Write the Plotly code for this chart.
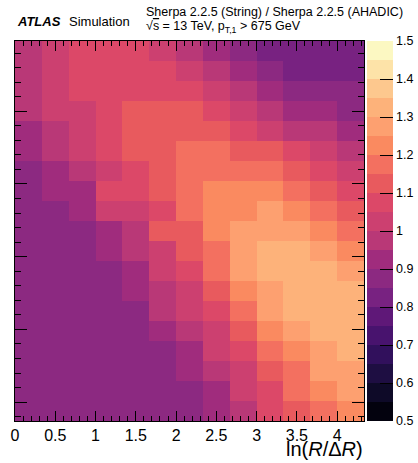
import plotly.graph_objects as go

# ---- data ----
# ln(R/dR) bin edges (13 bins)
x_edges = [0.0, 0.3333, 0.6667, 1.0, 1.3333, 1.6667, 2.0, 2.3333, 2.6667, 3.0,
           3.3333, 3.6667, 4.0, 4.3333]
# ln(1/z) bin edges (19 bins), bottom to top
y_edges = [0.74, 1.015, 1.29, 1.565, 1.84, 2.115, 2.39, 2.665, 2.94, 3.215,
           3.49, 3.765, 4.04, 4.315, 4.59, 4.865, 5.14, 5.415, 5.69, 5.965]

# ratio String / AHADIC, rows listed from TOP row to BOTTOM row
ratio_top_to_bottom = [
    [0.97, 1.02, 1.07, 1.07, 1.07, 1.02, 0.97, 0.92, 0.87, 0.83, 0.82, 0.82, 0.82],
    [0.97, 1.02, 1.07, 1.07, 1.07, 1.07, 1.02, 0.97, 0.92, 0.87, 0.82, 0.82, 0.82],
    [0.97, 1.02, 1.07, 1.07, 1.07, 1.07, 1.07, 1.02, 0.97, 0.92, 0.87, 0.87, 0.87],
    [0.97, 1.02, 1.02, 1.07, 1.12, 1.12, 1.12, 1.07, 1.02, 0.97, 0.92, 0.92, 0.87],
    [0.92, 0.97, 1.02, 1.07, 1.12, 1.12, 1.12, 1.12, 1.07, 1.02, 0.97, 0.97, 0.92],
    [0.92, 0.97, 1.02, 1.07, 1.12, 1.12, 1.17, 1.17, 1.12, 1.12, 1.07, 1.02, 0.97],
    [0.87, 0.92, 0.97, 1.02, 1.07, 1.12, 1.17, 1.17, 1.17, 1.17, 1.12, 1.07, 1.02],
    [0.87, 0.92, 0.92, 1.07, 1.07, 1.12, 1.17, 1.22, 1.22, 1.22, 1.17, 1.12, 1.07],
    [0.87, 0.87, 0.92, 1.02, 1.02, 1.07, 1.17, 1.22, 1.22, 1.27, 1.22, 1.17, 1.12],
    [0.87, 0.87, 0.87, 0.92, 0.97, 1.12, 1.12, 1.22, 1.27, 1.27, 1.27, 1.22, 1.17],
    [0.87, 0.87, 0.87, 0.92, 0.97, 1.02, 1.12, 1.17, 1.27, 1.32, 1.32, 1.27, 1.22],
    [0.87, 0.87, 0.87, 0.87, 0.92, 1.02, 1.07, 1.17, 1.27, 1.32, 1.32, 1.32, 1.27],
    [0.87, 0.87, 0.87, 0.87, 0.92, 0.97, 1.02, 1.12, 1.22, 1.27, 1.32, 1.32, 1.32],
    [0.87, 0.87, 0.87, 0.87, 0.87, 0.97, 1.02, 1.07, 1.17, 1.27, 1.32, 1.32, 1.32],
    [0.87, 0.87, 0.87, 0.87, 0.87, 0.92, 0.97, 1.02, 1.12, 1.22, 1.27, 1.32, 1.32],
    [0.87, 0.87, 0.87, 0.87, 0.87, 0.87, 0.92, 1.02, 1.07, 1.17, 1.22, 1.27, 1.32],
    [0.87, 0.87, 0.87, 0.87, 0.87, 0.87, 0.92, 0.97, 1.02, 1.12, 1.17, 1.27, 1.27],
    [0.87, 0.87, 0.87, 0.87, 0.87, 0.87, 0.87, 0.92, 1.02, 1.07, 1.17, 1.22, 1.27],
    [0.87, 0.87, 0.87, 0.87, 0.87, 0.87, 0.87, 0.92, 0.97, 1.07, 1.12, 1.17, 1.22],
]

z_min, z_max = 0.5, 1.5
cbar_tickvals = [0.5, 0.6, 0.7, 0.8, 0.9, 1.0, 1.1, 1.2, 1.3, 1.4, 1.5]
cbar_ticktext = ["0.5", "0.6", "0.7", "0.8", "0.9", "1", "1.1", "1.2", "1.3", "1.4", "1.5"]
x_tickvals = [0, 0.5, 1, 1.5, 2, 2.5, 3, 3.5, 4]
x_ticktext = ["0", "0.5", "1", "1.5", "2", "2.5", "3", "3.5", "4"]

# 20 discrete palette bands (0.05 wide)
band_colors = [
    "#03020e", "#0e0a28", "#1e0e42", "#31105c", "#48136e",
    "#5f1878", "#782281", "#8c2981", "#a02c7d", "#b93877",
    "#cc4070", "#dc4868", "#e85a5e", "#f37060", "#fa8a60",
    "#fda070", "#fdb27a", "#fdc88e", "#fde3a8", "#fcf8c2",
]

colorscale = []
n = len(band_colors)
for i, c in enumerate(band_colors):
    colorscale.append([i / n, c])
    colorscale.append([(i + 1) / n, c])

z = ratio_top_to_bottom[::-1]

# layout geometry (pixels)
W, H = 418, 463
L, R, T, B = 15, 54, 41, 42
pw, ph = W - L - R, H - T - B


def px_x(X):
    return (X - L) / pw


def px_y(Y):
    return (H - B - Y) / ph


fig = go.Figure()
fig.add_trace(go.Heatmap(
    x=x_edges, y=y_edges, z=z,
    zmin=z_min, zmax=z_max, colorscale=colorscale, zsmooth=False,
    hoverinfo="skip",
    colorbar=dict(
        x=px_x(367), xanchor="left", xpad=0, ypad=0,
        y=0.5, yanchor="middle", len=1, lenmode="fraction",
        thickness=26, thicknessmode="pixels", outlinewidth=0,
        tickmode="array", tickvals=cbar_tickvals, ticktext=cbar_ticktext,
        ticks="inside", ticklen=13, tickwidth=1, tickcolor="black",
        tickfont=dict(family="Liberation Sans, Arial", size=12.5, color="black"),
    ),
))

axis_font = dict(family="Liberation Sans, Arial", size=16, color="black")
fig.update_xaxes(
    range=[x_edges[0], x_edges[-1]], showgrid=False, zeroline=False,
    showline=True, linecolor="black", linewidth=1, mirror="ticks",
    ticks="inside", ticklen=10, tickwidth=1, tickcolor="black",
    tickmode="array", tickvals=x_tickvals, ticktext=x_ticktext,
    tickfont=axis_font,
    minor=dict(dtick=0.1, tick0=0, ticks="inside", ticklen=5, tickcolor="black", tickwidth=1, showgrid=False),
)
fig.update_yaxes(
    range=[y_edges[0], y_edges[-1]], showgrid=False, zeroline=False,
    showline=True, linecolor="black", linewidth=1, mirror="ticks",
    ticks="inside", ticklen=12, tickwidth=1, tickcolor="black",
    tick0=0, dtick=1, showticklabels=False,
    minor=dict(dtick=0.2, tick0=0, ticks="inside", ticklen=6, tickcolor="black", tickwidth=1, showgrid=False),
)

font_fam = "Liberation Sans, Arial"
annotations = [
    dict(x=px_x(365), y=px_y(449), xanchor="right", yanchor="middle",
         text="ln(<i>R</i>/Δ<i>R</i>)", font=dict(family=font_fam, size=20, color="black")),
    dict(x=px_x(15), y=px_y(21), xanchor="left", yanchor="middle",
         text="<b><i>ATLAS</i></b>", font=dict(family=font_fam, size=13, color="black")),
    dict(x=px_x(67), y=px_y(21), xanchor="left", yanchor="middle",
         text="Simulation", font=dict(family=font_fam, size=13, color="black")),
    dict(x=px_x(144), y=px_y(12), xanchor="left", yanchor="middle",
         text="Sherpa 2.2.5 (String) / Sherpa 2.2.5 (AHADIC)",
         font=dict(family=font_fam, size=12.5, color="black")),
    dict(x=px_x(144), y=px_y(27), xanchor="left", yanchor="middle",
         text="√<span style='text-decoration:overline'>s</span> = 13 TeV, p<sub>T,1</sub> > 675 GeV",
         font=dict(family=font_fam, size=12.5, color="black")),
]
for a in annotations:
    a.update(xref="paper", yref="paper", showarrow=False)

fig.update_layout(
    width=W, height=H, autosize=False,
    margin=dict(l=L, r=R, t=T, b=B, pad=0, autoexpand=False),
    paper_bgcolor="white", plot_bgcolor="white",
    annotations=annotations,
)

fig.write_html("out.html")
